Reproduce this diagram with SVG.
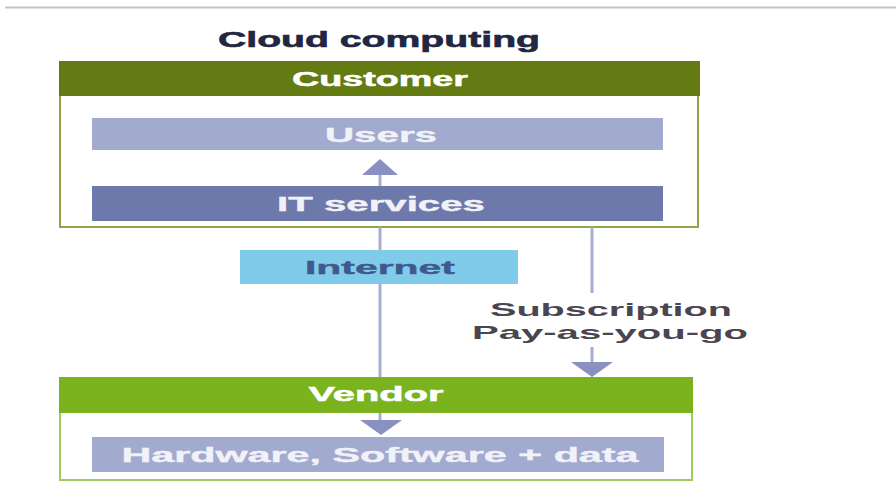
<svg xmlns="http://www.w3.org/2000/svg" width="896" height="497" viewBox="0 0 896 497">
  <style>
    text { font-family: "Liberation Sans", Arial, sans-serif; font-weight: bold; text-anchor: middle; }
    .title { font-size: 22px; fill: #1f2742; stroke: #1f2742; stroke-width: 0.6; }
    .head { font-size: 20px; fill: #ffffff; stroke: #ffffff; stroke-width: 0.5; }
    .bar { font-size: 20px; fill: #f1f2f8; stroke: #f1f2f8; stroke-width: 0.4; }
    .net { font-size: 19px; fill: #41598a; stroke: #41598a; stroke-width: 0.4; }
    .pay { font-size: 19px; fill: #4a4650; }
    .link { stroke: #a8aed3; stroke-width: 3; fill: none; }
    .tip { fill: #8a91c2; }
  </style>

  <!-- page rule -->
  <line x1="5" y1="7.5" x2="896" y2="7.5" stroke="#c4c4c4" stroke-width="2"/>

  <text class="title" x="379" y="47" textLength="322" lengthAdjust="spacingAndGlyphs">Cloud computing</text>

  <g id="customer">
    <rect x="60" y="62" width="638" height="165" fill="#ffffff" stroke="#8ba64b" stroke-width="2"/>
    <rect x="59" y="61" width="641" height="35" fill="#647b14"/>
    <text class="head" x="380" y="86" textLength="176" lengthAdjust="spacingAndGlyphs">Customer</text>
  </g>

  <!-- connectors: drawn over the customer frame, under the bars and headers -->
  <g id="connectors">
    <line class="link" x1="380" y1="227" x2="380" y2="421"/>
    <line class="link" x1="380" y1="186" x2="380" y2="174"/>
    <line class="link" x1="592" y1="227" x2="592" y2="293"/>
    <line class="link" x1="592" y1="347" x2="592" y2="363"/>
    <polygon class="tip" points="362,175 398,175 380,159"/>
    <polygon class="tip" points="571,362 613,362 592,377"/>
    <polygon class="tip" points="360,420 402,420 381,435"/>
  </g>

  <g id="users">
    <rect x="92" y="118" width="571" height="32" fill="#a3aacf"/>
    <text class="bar" x="381" y="142" textLength="112" lengthAdjust="spacingAndGlyphs">Users</text>
  </g>

  <g id="it-services">
    <rect x="92" y="186" width="571" height="35" fill="#6d78ab"/>
    <text class="bar" x="381" y="211" textLength="208" lengthAdjust="spacingAndGlyphs">IT services</text>
  </g>

  <g id="internet">
    <rect x="240" y="250" width="278" height="34" fill="#80cbea"/>
    <text class="net" x="380" y="274" textLength="150" lengthAdjust="spacingAndGlyphs">Internet</text>
  </g>

  <g id="payment">
    <text class="pay" x="611" y="316" textLength="242" lengthAdjust="spacingAndGlyphs">Subscription</text>
    <text class="pay" x="610" y="339" textLength="276" lengthAdjust="spacingAndGlyphs">Pay-as-you-go</text>
  </g>

  <g id="vendor">
    <rect x="60" y="378" width="632" height="102" fill="none" stroke="#9dcb5c" stroke-width="2"/>
    <rect x="59" y="377" width="634" height="36" fill="#7bb31f"/>
    <text class="head" x="376" y="401" textLength="135" lengthAdjust="spacingAndGlyphs">Vendor</text>
  </g>

  <g id="hardware">
    <rect x="92" y="437" width="572" height="35" fill="#a3aacf"/>
    <text class="bar" x="380" y="462" textLength="517" lengthAdjust="spacingAndGlyphs">Hardware, Software + data</text>
  </g>
</svg>
